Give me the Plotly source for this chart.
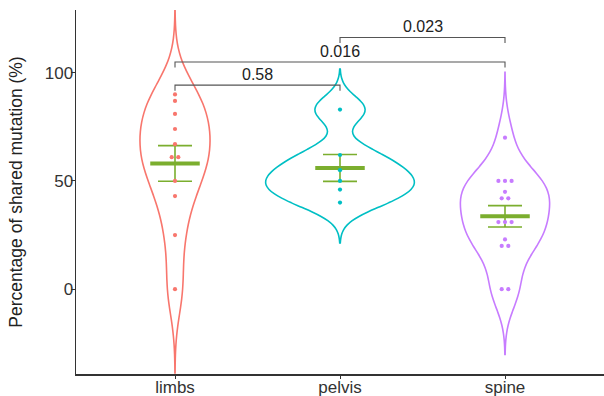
import numpy as np
import plotly.graph_objects as go

# ---- data ----
categories = ["limbs", "pelvis", "spine"]
limbs = [90, 87, 81, 74, 67, 61, 61, 50, 43, 25, 0]
pelvis = [83, 62, 55, 50, 46, 40]
spine = [70, 50, 50, 50, 45, 42, 42, 31, 31, 31, 23, 20, 20, 0, 0]
series = [limbs, pelvis, spine]
colors = ["#F8766D", "#00BFC4", "#C77CFF"]

# significance comparisons (category index pairs), p labels, bracket heights
comp_pairs = [(0, 1), (0, 2), (1, 2)]
comp_labels = ["0.58", "0.016", "0.023"]
comp_heights = [94.3, 105.0, 116.3]

y_ticks = [0, 50, 100]

GREEN = "#7BAE2E"
FONT = "Liberation Sans, Arial, sans-serif"


def bw_nrd0(x):
    x = np.asarray(x, float)
    sd = x.std(ddof=1)
    iqr = np.percentile(x, 75) - np.percentile(x, 25)
    lo = min(sd, iqr / 1.34)
    return 0.9 * lo * len(x) ** -0.2


def kde_max(x, bw, lo, hi):
    g = np.linspace(lo, hi, 512)
    x = np.asarray(x, float)
    d = np.exp(-0.5 * ((g[:, None] - x[None, :]) / bw) ** 2).sum(1)
    return (d / (len(x) * bw * np.sqrt(2 * np.pi))).max()


bws = [bw_nrd0(s) for s in series]
spans = [[min(s) - 3 * b, max(s) + 3 * b] for s, b in zip(series, bws)]
dmax = [kde_max(s, b, sp[0], sp[1]) for s, b, sp in zip(series, bws, spans)]
widths = [0.9 * d / max(dmax) for d in dmax]

fig = go.Figure()

for i, (s, col) in enumerate(zip(series, colors)):
    fig.add_trace(go.Violin(
        x=[i] * len(s), y=s, x0=i,
        bandwidth=bws[i], spanmode="manual", span=spans[i],
        scalemode="width", width=widths[i],
        line=dict(color=col, width=1.6), fillcolor="rgba(0,0,0,0)",
        points=False, box_visible=False, meanline_visible=False,
        hoverinfo="skip", showlegend=False,
    ))

# mean +/- SE
for i, s in enumerate(series):
    arr = np.asarray(s, float)
    m = arr.mean()
    se = arr.std(ddof=1) / np.sqrt(len(arr))
    fig.add_trace(go.Scatter(
        x=[i], y=[m], mode="markers", marker=dict(size=1, color=GREEN, opacity=0),
        error_y=dict(type="data", array=[se], visible=True, color=GREEN,
                     thickness=1.6, width=17),
        showlegend=False, hoverinfo="skip",
    ))
    fig.add_trace(go.Scatter(
        x=[i - 0.15, i + 0.15], y=[m, m], mode="lines",
        line=dict(color=GREEN, width=4), showlegend=False, hoverinfo="skip",
    ))

# dots (ties spread side by side)
for i, (s, col) in enumerate(zip(series, colors)):
    xs, ys = [], []
    vals, counts = np.unique(s, return_counts=True)
    for v, c in zip(vals, counts):
        for k in range(c):
            xs.append(i + (k - (c - 1) / 2) * 0.04)
            ys.append(v)
    fig.add_trace(go.Scatter(
        x=xs, y=ys, mode="markers",
        marker=dict(size=4.2, color=col), showlegend=False, hoverinfo="skip",
    ))

# significance brackets
for (a, b), lab, h in zip(comp_pairs, comp_labels, comp_heights):
    fig.add_trace(go.Scatter(
        x=[a, a, b, b], y=[h - 2.6, h, h, h - 2.6], mode="lines",
        line=dict(color="#555555", width=1.1), showlegend=False, hoverinfo="skip",
    ))
    fig.add_annotation(x=(a + b) / 2, y=h, text=lab, showarrow=False,
                       yanchor="bottom", yshift=0,
                       font=dict(size=16, color="#222222", family=FONT))

fig.update_layout(
    width=604, height=396,
    margin=dict(l=76, r=0, t=10, b=22),
    plot_bgcolor="white", paper_bgcolor="white",
    font=dict(family=FONT, size=17, color="#333333"),
    showlegend=False,
    violinmode="overlay", violingap=0, violingroupgap=0,
)
fig.update_xaxes(
    range=[-0.6, 2.6], tickvals=[0, 1, 2], ticktext=categories,
    showline=True, linecolor="#333333", linewidth=1.5,
    ticks="outside", ticklen=3, tickcolor="#333333",
    showgrid=False, zeroline=False, automargin=False,
    ticklabelstandoff=-6,
    tickfont=dict(size=17, color="#333333"),
)
fig.update_yaxes(
    range=[-39.2, 129], tickvals=y_ticks,
    showline=True, linecolor="#333333", linewidth=1.5,
    ticks="outside", ticklen=4, tickcolor="#333333",
    showgrid=False, zeroline=False, automargin=False,
    ticklabelstandoff=-6,
    tickfont=dict(size=17, color="#333333"),
    title=dict(text="Percentage of shared mutation (%)", standoff=17,
               font=dict(size=17.5, color="#222222")),
)

fig.write_html(
    "out.html",
    config={"displayModeBar": False, "staticPlot": True},
    post_script="document.body.style.margin='0';document.body.style.overflow='hidden';",
)
